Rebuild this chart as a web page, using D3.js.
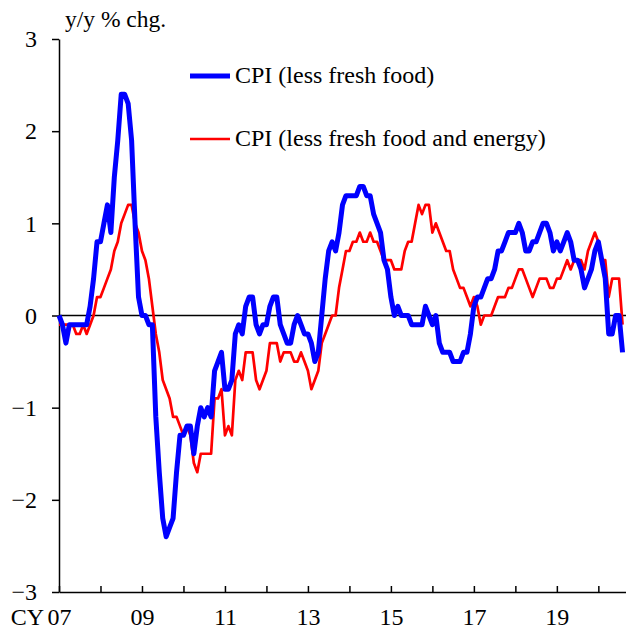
<!DOCTYPE html>
<html>
<head>
<meta charset="utf-8">
<script src="https://cdn.jsdelivr.net/npm/d3@7"></script>
<style>
  html, body { margin: 0; padding: 0; background: #fff; }
  text { font-family: "Liberation Serif", "Times New Roman", serif; fill: #000; }
</style>
</head>
<body>
<div id="chart"></div>
<script>
// monthly y/y % change, Jan 2007 .. Aug 2020
const startYear = 2007;

const cpiLessFreshFood = [
  0.0, -0.1, -0.3, -0.1, -0.1, -0.1, -0.1, -0.1, -0.1, 0.1, 0.4, 0.8,   // 2007
  0.8, 1.0, 1.2, 0.9, 1.5, 1.9, 2.4, 2.4, 2.3, 1.9, 1.0, 0.2,           // 2008
  0.0, 0.0, -0.1, -0.1, -1.1, -1.7, -2.2, -2.4, -2.3, -2.2, -1.7, -1.3, // 2009
  -1.3, -1.2, -1.2, -1.5, -1.2, -1.0, -1.1, -1.0, -1.1, -0.6, -0.5, -0.4, // 2010
  -0.8, -0.8, -0.7, -0.2, -0.1, -0.2, 0.1, 0.2, 0.2, -0.1, -0.2, -0.1, // 2011
  -0.1, 0.1, 0.2, 0.2, -0.1, -0.2, -0.3, -0.3, -0.1, 0.0, -0.1, -0.2,  // 2012
  -0.2, -0.3, -0.5, -0.4, 0.0, 0.4, 0.7, 0.8, 0.7, 0.9, 1.2, 1.3,      // 2013
  1.3, 1.3, 1.3, 1.4, 1.4, 1.3, 1.3, 1.1, 1.0, 0.9, 0.6, 0.5,          // 2014
  0.2, 0.0, 0.1, 0.0, 0.0, 0.0, -0.1, -0.1, -0.1, -0.1, 0.1, 0.0,      // 2015
  -0.1, 0.0, -0.3, -0.4, -0.4, -0.4, -0.5, -0.5, -0.5, -0.4, -0.4, -0.2, // 2016
  0.1, 0.2, 0.2, 0.3, 0.4, 0.4, 0.5, 0.7, 0.7, 0.8, 0.9, 0.9,          // 2017
  0.9, 1.0, 0.9, 0.7, 0.7, 0.8, 0.8, 0.9, 1.0, 1.0, 0.9, 0.7,          // 2018
  0.8, 0.7, 0.8, 0.9, 0.8, 0.6, 0.6, 0.5, 0.3, 0.4, 0.5, 0.7,          // 2019
  0.8, 0.6, 0.4, -0.2, -0.2, 0.0, 0.0, -0.4                            // 2020
];

const cpiLessFreshFoodEnergy = [
  -0.1, -0.1, -0.1, -0.1, -0.1, -0.2, -0.2, -0.1, -0.2, -0.1, 0.0, 0.2, // 2007
  0.2, 0.3, 0.4, 0.5, 0.7, 0.8, 1.0, 1.1, 1.2, 1.2, 1.0, 0.9,           // 2008
  0.7, 0.6, 0.4, 0.1, -0.2, -0.4, -0.7, -0.8, -0.9, -1.1, -1.1, -1.2,  // 2009
  -1.3, -1.2, -1.3, -1.6, -1.7, -1.5, -1.5, -1.5, -1.5, -0.9, -0.9, -0.8, // 2010
  -1.3, -1.2, -1.3, -0.7, -0.6, -0.7, -0.4, -0.4, -0.4, -0.7, -0.8, -0.7, // 2011
  -0.6, -0.3, -0.3, -0.3, -0.5, -0.4, -0.4, -0.4, -0.5, -0.5, -0.4, -0.5, // 2012
  -0.6, -0.8, -0.7, -0.6, -0.3, -0.2, -0.1, 0.0, 0.0, 0.3, 0.5, 0.7,   // 2013
  0.7, 0.8, 0.8, 0.9, 0.8, 0.8, 0.9, 0.8, 0.8, 0.7, 0.6, 0.6,          // 2014
  0.6, 0.5, 0.5, 0.5, 0.7, 0.8, 0.8, 1.0, 1.2, 1.1, 1.2, 1.2,          // 2015
  0.9, 1.0, 0.9, 0.8, 0.7, 0.7, 0.5, 0.4, 0.3, 0.3, 0.2, 0.1,          // 2016
  0.2, 0.1, -0.1, 0.0, 0.0, 0.0, 0.1, 0.2, 0.2, 0.2, 0.3, 0.3,         // 2017
  0.4, 0.5, 0.5, 0.4, 0.3, 0.2, 0.3, 0.4, 0.4, 0.4, 0.3, 0.3,          // 2018
  0.4, 0.4, 0.5, 0.6, 0.5, 0.6, 0.6, 0.6, 0.5, 0.7, 0.8, 0.9,          // 2019
  0.8, 0.6, 0.6, 0.2, 0.4, 0.4, 0.4, -0.1                              // 2020
];

const yTicks = [-3, -2, -1, 0, 1, 2, 3];
const xTickLabels = ["07", "", "09", "", "11", "", "13", "", "15", "", "17", "", "19", ""];
const legendLabels = ["CPI (less fresh food)", "CPI (less fresh food and energy)"];

const width = 626, height = 630;
const margin = { top: 39, right: 0, bottom: 38, left: 59 };
const nMonths = 164; // axis runs to Sep 2020
const fontSize = 24;

const svg = d3.select('#chart')
  .append('svg')
    .attr('width', width)
    .attr('height', height);

const x = d3.scaleLinear()
  .domain([0, nMonths])
  .range([margin.left, width - margin.right]);

const y = d3.scaleLinear()
  .domain([-3, 3])
  .range([height - margin.bottom, margin.top]);

// y axis
const yAxis = svg.append('g')
  .attr('transform', `translate(${margin.left},0)`)
  .call(d3.axisLeft(y)
    .tickValues(yTicks)
    .tickSize(7)
    .tickSizeOuter(0)
    .tickPadding(15)
    .tickFormat(d3.format('d')));
yAxis.selectAll('text').attr('font-size', fontSize).attr('font-family', '"Liberation Serif", serif');
yAxis.selectAll('line, path').attr('stroke', '#000').attr('stroke-width', 1.5);

// x axis, ticks every January pointing up
const yearTicks = xTickLabels.map((d, i) => i * 12);
const xAxis = svg.append('g')
  .attr('transform', `translate(0,${y(-3)})`)
  .call(d3.axisBottom(x)
    .tickValues(yearTicks)
    .tickSizeInner(-6)
    .tickSizeOuter(0)
    .tickPadding(16)
    .tickFormat((d, i) => xTickLabels[i]));
xAxis.selectAll('text').attr('font-size', fontSize).attr('font-family', '"Liberation Serif", serif');
xAxis.selectAll('line, path').attr('stroke', '#000').attr('stroke-width', 1.5);

svg.append('text')
  .attr('x', x(0) - 15)
  .attr('y', 625)
  .attr('text-anchor', 'end')
  .attr('font-size', fontSize)
  .text('CY');

// zero line
svg.append('line')
  .attr('x1', x(0)).attr('x2', x(nMonths))
  .attr('y1', y(0)).attr('y2', y(0))
  .attr('stroke', '#000')
  .attr('stroke-width', 1.5);

// unit label
svg.append('text')
  .attr('x', 65)
  .attr('y', 27)
  .attr('font-size', 23.5)
  .text('y/y % chg.');

const line = d3.line()
  .x((d, i) => x(i))
  .y(d => y(d));

const series = [
  { name: legendLabels[1], values: cpiLessFreshFoodEnergy, color: '#ff0000', width: 2.7 },
  { name: legendLabels[0], values: cpiLessFreshFood, color: '#0000ff', width: 5 }
];

svg.selectAll('path.series')
  .data(series)
  .enter().append('path')
    .attr('class', 'series')
    .attr('d', d => line(d.values))
    .attr('fill', 'none')
    .attr('stroke', d => d.color)
    .attr('stroke-width', d => d.width)
    .attr('stroke-linejoin', 'round');

// legend
const legend = svg.append('g');
const legendItems = [
  { label: legendLabels[0], color: '#0000ff', width: 5, y: 76 },
  { label: legendLabels[1], color: '#ff0000', width: 2.7, y: 139 }
];
legendItems.forEach(item => {
  legend.append('line')
    .attr('x1', 190).attr('x2', 230)
    .attr('y1', item.y).attr('y2', item.y)
    .attr('stroke', item.color)
    .attr('stroke-width', item.width);
  legend.append('text')
    .attr('x', 235)
    .attr('y', item.y + 7)
    .attr('font-size', fontSize)
    .text(item.label);
});
</script>
</body>
</html>
